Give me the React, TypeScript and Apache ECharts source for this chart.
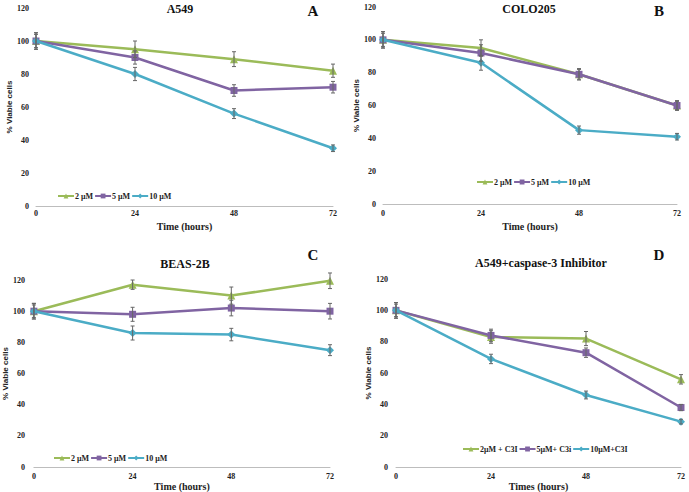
import React, { useEffect, useRef } from "react";
import * as echarts from "echarts";

// ---- data ----
const times = [0, 24, 48, 72];
const xTicks = [0, 24, 48, 72];
const yTicks = [0, 20, 40, 60, 80, 100, 120];

const titles = ["A549", "COLO205", "BEAS-2B", "A549+caspase-3 Inhibitor"];
const letters = ["A", "B", "C", "D"];
const xNames = ["Time (hours)", "Time (hours)", "Time (hours)", "Times (hours)"];
const yName = "% Viable cells";
const namesABC = ["2 μM", "5 μM", "10 μM"];
const namesD = ["2μM + C3I", "5μM+ C3i", "10μM+C3I"];

// Panel A: A549
const a_2 = [100, 95, 89, 82];
const a_5 = [100, 90, 70, 72];
const a_10 = [100, 80, 56, 35];
const a_2e = [5, 5, 4.5, 4];
const a_5e = [5, 4, 3.5, 3.5];
const a_10e = [4, 4, 3, 2];

// Panel B: COLO205
const b_2 = [100, 95, 79, 60];
const b_5 = [100, 92, 79, 60];
const b_10 = [100, 86, 45, 41];
const b_2e = [5, 5, 3, 3];
const b_5e = [5, 5, 3.5, 2.5];
const b_10e = [4, 4.5, 2.5, 2];

// Panel C: BEAS-2B
const c_2 = [100, 117, 110, 119.5];
const c_5 = [100, 98, 102, 100];
const c_10 = [100, 86, 85, 75];
const c_2e = [5, 3, 5.5, 5];
const c_5e = [5, 4.5, 5, 5];
const c_10e = [4, 4.5, 4, 3.5];

// Panel D: A549 + caspase-3 inhibitor
const d_2 = [100, 83, 82, 56];
const d_5 = [100, 84, 73, 38];
const d_10 = [100, 69, 46, 29];
const d_2e = [5, 4, 4.5, 3];
const d_5e = [5, 4, 3, 2];
const d_10e = [4, 3, 2.5, 1.5];

// ---- styling ----
const colors = ["#9BBB59", "#8064A2", "#4BACC6"];
const symbols = ["triangle", "rect", "diamond"];
const symbolSizes = [8, 7, 8];
const serif = "'Liberation Serif', 'Times New Roman', serif";
const sans = "'Liberation Sans', Arial, sans-serif";

const grids = [
  { left: 36, top: 8, width: 297, height: 198 },
  { left: 383, top: 7, width: 294, height: 197 },
  { left: 24, top: 280, width: 306, height: 193 },
  { left: 396, top: 279, width: 285, height: 193 },
];
const xLabelMargin = [3, 5, 5, 5];
const xNameGap = [15, 17, 7, 5];
const yNameGap = [19, 21, 13, 21];
const yLabelMargin = [7, 7, 9, 8];
const legendPos = [
  { left: 57, top: 192 },
  { left: 476, top: 178 },
  { left: 53, top: 454 },
  { left: 462, top: 445 },
];
const titlePos = [
  [180, 9],
  [529, 9],
  [185, 264],
  [541, 263],
];
const letterPos = [
  [313, 11],
  [659, 11],
  [313, 255],
  [659, 255],
];

const panels = [
  { vals: [a_2, a_5, a_10], errs: [a_2e, a_5e, a_10e], names: namesABC },
  { vals: [b_2, b_5, b_10], errs: [b_2e, b_5e, b_10e], names: namesABC },
  { vals: [c_2, c_5, c_10], errs: [c_2e, c_5e, c_10e], names: namesABC },
  { vals: [d_2, d_5, d_10], errs: [d_2e, d_5e, d_10e], names: namesD },
];

function errRender(params: any, api: any) {
  const x = api.value(0);
  const y = api.value(1);
  const e = api.value(2);
  const top = api.coord([x, y + e]);
  const bot = api.coord([x, y - e]);
  const w = 2;
  const style = { stroke: "#666", lineWidth: 1 };
  return {
    type: "group",
    children: [
      { type: "line", shape: { x1: top[0], y1: top[1], x2: bot[0], y2: bot[1] }, style },
      { type: "line", shape: { x1: top[0] - w, y1: top[1], x2: top[0] + w, y2: top[1] }, style },
      { type: "line", shape: { x1: bot[0] - w, y1: bot[1], x2: bot[0] + w, y2: bot[1] }, style },
    ],
  };
}

export default function App() {
  const ref = useRef<HTMLDivElement>(null);
  useEffect(() => {
    if (!ref.current) return;
    const chart = echarts.init(ref.current, undefined, { renderer: "svg" });

    const series: any[] = [];
    panels.forEach((p, pi) => {
      p.vals.forEach((vals, si) => {
        series.push({
          type: "line",
          name: p.names[si],
          xAxisIndex: pi,
          yAxisIndex: pi,
          data: times.map((t, i) => [t, vals[i]]),
          symbol: symbols[si],
          symbolSize: symbolSizes[si],
          color: colors[si],
          lineStyle: { width: 2.5, color: colors[si] },
          itemStyle: { color: colors[si] },
          z: 2 + si,
        });
      });
      p.vals.forEach((vals, si) => {
        series.push({
          type: "custom",
          name: p.names[si] + " err",
          xAxisIndex: pi,
          yAxisIndex: pi,
          data: times.map((t, i) => [t, vals[i], p.errs[si][i]]),
          encode: { x: 0, y: 1 },
          renderItem: errRender,
          z: 10,
          silent: true,
        });
      });
    });

    const option: any = {
      animation: false,
      backgroundColor: "#ffffff",
      grid: grids.map((g) => ({ ...g, containLabel: false })),
      xAxis: grids.map((_, i) => ({
        type: "value",
        gridIndex: i,
        min: xTicks[0],
        max: xTicks[xTicks.length - 1],
        interval: 24,
        name: xNames[i],
        nameLocation: "middle",
        nameGap: xNameGap[i],
        nameTextStyle: { fontFamily: serif, fontWeight: "bold", fontSize: 10, color: "#222" },
        axisLine: { show: true, lineStyle: { color: "#bdbdbd", width: 1 } },
        axisTick: { show: false },
        splitLine: { show: false },
        axisLabel: { margin: xLabelMargin[i], fontFamily: serif, fontWeight: "bold", fontSize: 8, color: "#222" },
      })),
      yAxis: grids.map((_, i) => ({
        type: "value",
        gridIndex: i,
        min: yTicks[0],
        max: yTicks[yTicks.length - 1],
        interval: 20,
        name: yName,
        nameLocation: "middle",
        nameGap: yNameGap[i],
        nameTextStyle: { fontFamily: sans, fontWeight: "bold", fontSize: 8, color: "#222" },
        axisLine: { show: false },
        axisTick: { show: false },
        splitLine: { show: false },
        axisLabel: { margin: yLabelMargin[i], fontFamily: serif, fontWeight: "bold", fontSize: 8, color: "#222" },
      })),
      legend: panels.map((p, i) => ({
        data: p.names,
        left: legendPos[i].left,
        top: legendPos[i].top,
        orient: "horizontal",
        itemWidth: 16,
        itemHeight: 6,
        itemGap: 1,
        selectedMode: false,
        padding: 0,
        textStyle: { fontFamily: serif, fontWeight: "bold", fontSize: 8, color: "#222", padding: [0, 0, 0, -4] },
      })),
      graphic: [
        ...titles.map((t, i) => ({
          type: "text",
          x: titlePos[i][0],
          y: titlePos[i][1],
          style: {
            text: t,
            fontFamily: serif,
            fontWeight: "bold",
            fontSize: 12,
            fill: "#111",
            textAlign: "center",
            textVerticalAlign: "middle",
          },
        })),
        ...letters.map((t, i) => ({
          type: "text",
          x: letterPos[i][0],
          y: letterPos[i][1],
          style: {
            text: t,
            fontFamily: serif,
            fontWeight: "bold",
            fontSize: 15,
            fill: "#111",
            textAlign: "center",
            textVerticalAlign: "middle",
          },
        })),
      ],
      series,
    };
    chart.setOption(option);
    return () => chart.dispose();
  }, []);

  return (
    <div
      ref={ref}
      style={{ position: "fixed", left: 0, top: 0, width: 689, height: 492, background: "#fff" }}
    />
  );
}
